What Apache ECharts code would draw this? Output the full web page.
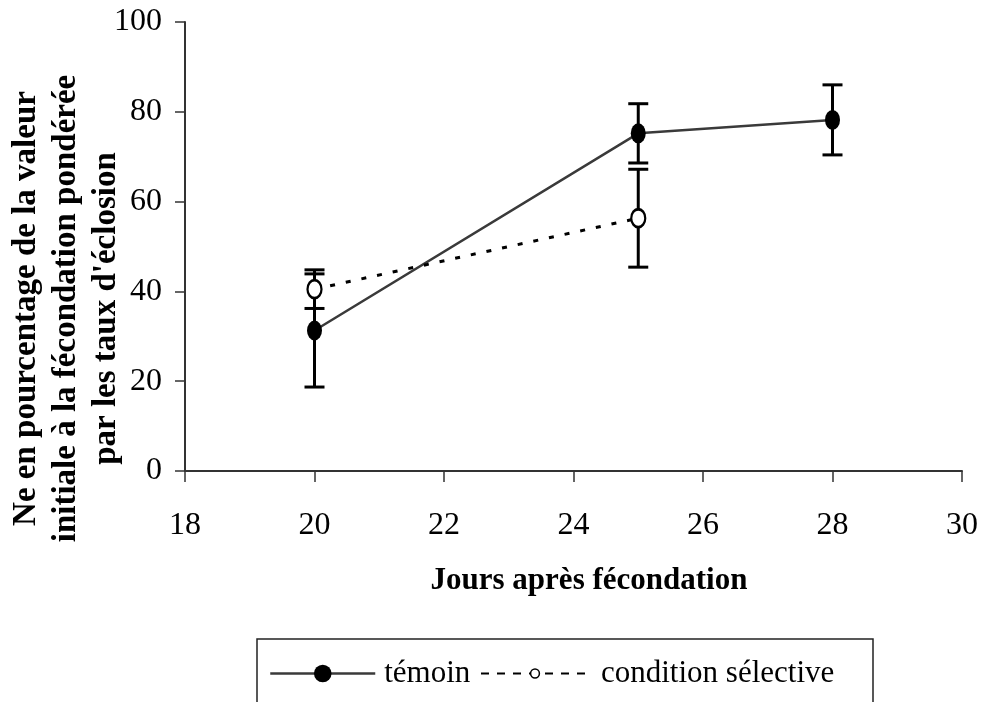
<!DOCTYPE html>
<html>
<head>
<meta charset="utf-8">
<script src="https://cdn.jsdelivr.net/npm/echarts@6/dist/echarts.min.js"></script>
<style>
  html, body { margin: 0; padding: 0; background: #fff; }
  #chart { width: 982px; height: 702px; }
</style>
</head>
<body>
<div id="chart"></div>
<script>
// Days after fertilisation
var days = [20, 25, 28];
var conditionDays = [20, 25];

// Ne as % of initial value, weighted by hatching rate
var temoin = [31.3, 75.2, 78.2];
var temoinErr = [12.6, 6.6, 7.8];
var condition = [40.5, 56.3];
var conditionErr = [4.3, 10.9];

var xTicks = { min: 18, max: 30, step: 2 };
var yTicks = { min: 0, max: 100, step: 20 };

var seriesNames = ['témoin', 'condition sélective'];

var serif = '"Liberation Serif", "Times New Roman", serif';

function pairs(xs, ys) {
  return xs.map(function (x, i) { return [x, ys[i]]; });
}
function triples(xs, ys, es) {
  return xs.map(function (x, i) { return [x, ys[i], es[i]]; });
}

// Vertical error bar with horizontal caps
function errorBar(params, api) {
  var x = api.value(0), y = api.value(1), e = api.value(2);
  var hi = api.coord([x, y + e]);
  var lo = api.coord([x, y - e]);
  var cap = 10;
  var style = { stroke: '#000', lineWidth: 3 };
  return {
    type: 'group',
    children: [
      { type: 'line', shape: { x1: hi[0], y1: hi[1], x2: lo[0], y2: lo[1] }, style: style },
      { type: 'line', shape: { x1: hi[0] - cap, y1: hi[1], x2: hi[0] + cap, y2: hi[1] }, style: style },
      { type: 'line', shape: { x1: lo[0] - cap, y1: lo[1], x2: lo[0] + cap, y2: lo[1] }, style: style }
    ]
  };
}

var chart = echarts.init(document.getElementById('chart'));

chart.setOption({
  animation: false,
  backgroundColor: '#fff',
  textStyle: { fontFamily: serif },
  grid: {
    left: 185, right: 20, top: 22, bottom: 231,
    containLabel: false,
    outerBoundsMode: 'none'
  },
  xAxis: {
    type: 'value',
    min: xTicks.min,
    max: xTicks.max,
    interval: xTicks.step,
    name: 'Jours après fécondation',
    nameLocation: 'middle',
    nameGap: 94,
    nameMoveOverlap: false,
    nameTextStyle: {
      fontFamily: serif, fontWeight: 'bold', fontSize: 31, color: '#000',
      padding: [0, 0, 0, 31]
    },
    axisLine: { lineStyle: { color: '#333', width: 2 } },
    axisTick: { inside: false, length: 11, lineStyle: { color: '#333', width: 1.5 } },
    axisLabel: { margin: 39, fontFamily: serif, fontSize: 32, color: '#000' },
    splitLine: { show: false }
  },
  yAxis: {
    type: 'value',
    min: yTicks.min,
    max: yTicks.max,
    interval: yTicks.step,
    name: 'Ne en pourcentage de la valeur\ninitiale à la fécondation pondérée\npar les taux d\'éclosion',
    nameLocation: 'middle',
    nameGap: 59,
    nameMoveOverlap: false,
    nameTextStyle: {
      fontFamily: serif, fontWeight: 'bold', fontSize: 33, lineHeight: 40, color: '#000',
      align: 'center',
      padding: [0, 124, 0, 0]
    },
    axisLine: { show: true, lineStyle: { color: '#333', width: 2 } },
    axisTick: { show: true, inside: false, length: 10, lineStyle: { color: '#333', width: 1.5 } },
    axisLabel: { margin: 23, fontFamily: serif, fontSize: 32, color: '#000' },
    splitLine: { show: false }
  },
  legend: [
    {
      data: [{
        name: seriesNames[0],
        lineStyle: { width: 2.5 }
      }],
      left: 269,
      top: 658,
      padding: 0,
      itemWidth: 105,
      itemHeight: 22,
      textStyle: { fontFamily: serif, fontSize: 31, lineHeight: 22, color: '#000', padding: [0, 0, 0, 4] }
    },
    {
      data: [{
        name: seriesNames[1],
        itemStyle: { borderWidth: 1.5 },
        lineStyle: { type: [8, 8], width: 2 }
      }],
      left: 480,
      top: 658,
      padding: 0,
      itemWidth: 108,
      itemHeight: 11,
      textStyle: { fontFamily: serif, fontSize: 31, lineHeight: 11, color: '#000', padding: [0, 0, 0, 7] }
    }
  ],
  graphic: [{
    type: 'rect',
    silent: true,
    shape: { x: 257, y: 639, width: 616, height: 90 },
    style: { fill: 'none', stroke: '#222', lineWidth: 1.5 }
  }],
  series: [
    {
      type: 'custom',
      name: 'témoin ± erreur',
      z: 1,
      renderItem: errorBar,
      data: triples(days, temoin, temoinErr),
      encode: { x: 0, y: 1 }
    },
    {
      type: 'custom',
      name: 'condition ± erreur',
      z: 1,
      renderItem: errorBar,
      data: triples(conditionDays, condition, conditionErr),
      encode: { x: 0, y: 1 }
    },
    {
      type: 'line',
      name: seriesNames[0],
      z: 3,
      data: pairs(days, temoin),
      symbol: 'circle',
      symbolSize: [15, 20],
      itemStyle: { color: '#000' },
      lineStyle: { color: '#3a3a3a', width: 2.5 }
    },
    {
      type: 'line',
      name: seriesNames[1],
      z: 3,
      data: pairs(conditionDays, condition),
      symbol: 'circle',
      symbolSize: [14, 18],
      itemStyle: { color: '#fff', borderColor: '#000', borderWidth: 2.5 },
      lineStyle: { color: '#000', width: 3, type: [5, 11] }
    }
  ]
});
</script>
</body>
</html>
